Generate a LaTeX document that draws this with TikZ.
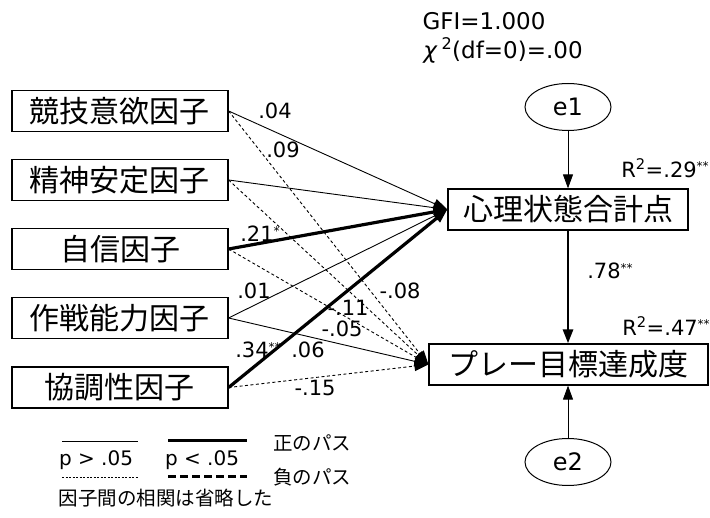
\documentclass[tikz,border=0pt]{standalone}
\usepackage{fontspec}
\setmainfont{DejaVu Sans}
\newfontfamily\jp{Noto Sans CJK JP}
\usetikzlibrary{arrows.meta,shapes.geometric}
\newcommand\sig[1]{\raisebox{0.3em}{\fontsize{12}{12}\selectfont #1}}
\tikzset{
  fbox/.style={draw,line width=1.2pt,minimum height=41pt,inner sep=0pt,font=\jp\fontsize{30}{30}\selectfont},
  err/.style={draw,ellipse,line width=1pt,minimum width=86pt,minimum height=47pt,inner sep=0pt,font=\fontsize{24}{24}\selectfont},
  lab/.style={inner sep=0pt,font=\fontsize{21}{21}\selectfont},
  arr/.style={-{Triangle[length=14pt,width=10pt]}},
  thinpos/.style={arr,line width=0.9pt},
  thickpos/.style={arr,line width=3.2pt},
  thinneg/.style={arr,line width=0.9pt,dash pattern=on 3pt off 2.5pt},
}
\begin{document}
\begin{tikzpicture}[x=1pt,y=-1pt]
\useasboundingbox (0,0) rectangle (710,518);
% predictor boxes
\node[fbox,minimum width=216pt] (f1) at (120,111) {競技意欲因子};
\node[fbox,minimum width=216pt] (f2) at (120,180) {精神安定因子};
\node[fbox,minimum width=216pt] (f3) at (120,249) {自信因子};
\node[fbox,minimum width=216pt] (f4) at (120,318) {作戦能力因子};
\node[fbox,minimum width=216pt] (f5) at (120,387.5) {協調性因子};
% outcome boxes
\node[fbox,minimum width=240pt] (m) at (568,209.5) {心理状態合計点};
\node[fbox,minimum width=279pt] (p) at (568.5,364.5) {プレー目標達成度};
% error terms
\node[err] (e1) at (568,107) {e1};
\node[err] (e2) at (568,462) {e2};
% paths to m
\draw[thinpos] (f1.east) -- (m.west);
\draw[thinpos] (f2.east) -- (m.west);
\draw[thickpos] (f3.east) -- (m.west);
\draw[thinpos] (f4.east) -- (m.west);
\draw[thickpos] (f5.east) -- (m.west);
% paths to p
\draw[thinneg] (f1.east) -- (p.west);
\draw[thinneg] (f2.east) -- (p.west);
\draw[thinneg] (f3.east) -- (p.west);
\draw[thinpos] (f4.east) -- (p.west);
\draw[thinneg] (f5.east) -- (p.west);
% vertical arrows
\draw[arr,line width=0.9pt] (e1.south) -- (e1.south |- m.north);
\draw[arr,line width=2.8pt] (e1.south |- m.south) -- (e1.south |- p.north);
\draw[arr,line width=0.9pt] (e2.north) -- (e2.north |- p.south);
% coefficient labels
\node[lab] (l04) at (275,111) {.04};
\node[lab] (l09) at (283,150) {.09};
\node[lab] (l21) at (260,234) {.21\sig{*}};
\node[lab] (l01) at (254,291) {.01};
\node[lab] (l34) at (258,350) {.34\sig{**}};
\node[lab] (l06) at (308,350) {.06};
\node[lab] (l15) at (315,388) {-.15};
\node[lab] (l08) at (400,291) {-.08};
\node[lab] (l11) at (348,308) {-.11};
\node[lab] (l05) at (342,329) {-.05};
\node[lab] (l78) at (610,271) {.78\sig{**}};
\node[lab] (r1) at (665,168) {R\textsuperscript{2}=.29\sig{**}};
\node[lab] (r2) at (666,326) {R\textsuperscript{2}=.47\sig{**}};
% fit indices
\node[inner sep=0pt,font=\fontsize{23}{23}\selectfont] (gfi) at (484,21) {GFI=1.000};
\node[inner sep=0pt,font=\fontsize{23}{23}\selectfont] (chi) at (503,50) {\textit{χ}\,\textsuperscript{2}(df=0)=.00};
% legend
\coordinate (a1) at (62,441); \coordinate (a2) at (138,441);
\coordinate (b1) at (168,441); \coordinate (b2) at (247,441);
\coordinate (c1) at (62,477); \coordinate (c2) at (138,477);
\coordinate (d1) at (168,477); \coordinate (d2) at (247,477);
\draw[line width=0.9pt] (a1) -- (a2);
\draw[line width=3pt] (b1) -- (b2);
\draw[line width=0.9pt,dash pattern=on 2pt off 1.5pt] (c1) -- (c2);
\draw[line width=3pt,dash pattern=on 8pt off 4pt] (d1) -- (d2);
\node[inner sep=0pt,font=\fontsize{20}{20}\selectfont] (pg) at (96,460) {p > .05};
\node[inner sep=0pt,font=\fontsize{20}{20}\selectfont] (pl) at (202,460) {p < .05};
\node[inner sep=0pt,font=\jp\fontsize{19.5}{19.5}\selectfont] (pos) at (312,443) {正のパス};
\node[inner sep=0pt,font=\jp\fontsize{19.5}{19.5}\selectfont] (neg) at (312,477) {負のパス};
\node[inner sep=0pt,font=\jp\fontsize{19.5}{19.5}\selectfont] (note) at (166,498) {因子間の相関は省略した};
\end{tikzpicture}
\end{document}
